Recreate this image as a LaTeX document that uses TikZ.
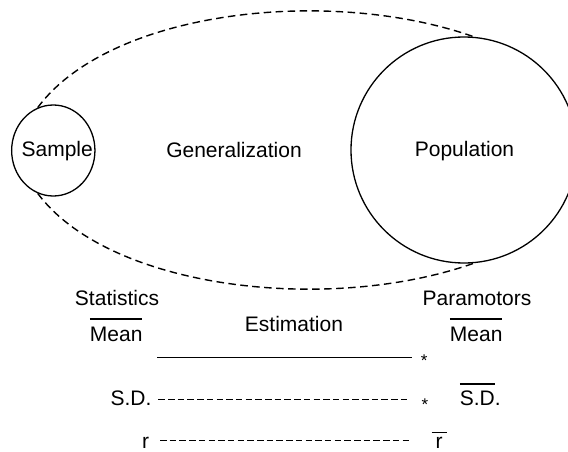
\documentclass[tikz,border=0pt]{standalone}
\usepackage{fontspec}
\setmainfont{Liberation Sans}
\usetikzlibrary{shapes.geometric}
\newcommand\barover[2]{\vbox{\hrule height 1.3pt\kern#1\hbox{#2}}}
\begin{document}
\begin{tikzpicture}[x=1pt,y=-1pt,
  txt/.style={font=\fontsize{21}{25}\selectfont, inner sep=0pt, anchor=base},
  astx/.style={font=\fontsize{17}{20}\selectfont, inner sep=0pt, anchor=base},
  ring/.style={draw, line width=1.3pt, inner sep=0pt},
  arc dash/.style={line width=1.4pt, dash pattern=on 7.5pt off 4.5pt},
  solidln/.style={line width=1.4pt},
  dashln/.style={line width=1.4pt, dash pattern=on 6.5pt off 3.2pt}]
\useasboundingbox (0,0) rectangle (568,452);
\clip (0,0) rectangle (568,452);
% circles
\node[ring, ellipse, minimum width=83.3pt, minimum height=91pt] (S) at (53.3,150.5) {};
\node[ring, circle, minimum size=226pt] (P) at (464,150) {};
% top texts
\node[txt] (Stxt) at (57.2,157) {Sample};
\node[txt] (G) at (234,157.3) {Generalization};
\node[txt] (Ptxt) at (464.5,156.7) {Population};
% dashed generalization curves
\draw[arc dash] (S.110) .. controls (110,10) and (330,-14) .. (P.85);
\draw[arc dash] (S.250) .. controls (110,290) and (330,314) .. (P.275);
% bottom texts
\node[txt] (stat) at (117,305.5) {Statistics};
\node[txt] (meanL) at (116.2,341) {\barover{7pt}{Mean}};
\node[txt] (est) at (294,331.5) {Estimation};
\node[txt] (param) at (477,305.5) {Paramotors};
\node[txt] (meanR) at (476.2,341) {\barover{7pt}{Mean}};
\node[txt] (sdL) at (131,405.5) {S.D.};
\node[txt] (sdR) at (480.3,405.5) {\barover{6.3pt}{S.D}.};
\node[txt] (rL) at (145.7,448.5) {r};
\node[txt] (rR) at (439.2,448.5) {\vbox{\hrule height 1.3pt\kern4.3pt\hbox to 15pt{\hss r\hss}}};
\node[astx] (ast1) at (424.3,366) {*};
\node[astx] (ast2) at (425,410.5) {*};
% estimation lines
\coordinate (m1) at (157.3,357.5);
\coordinate (m2) at (411.7,357.5);
\coordinate (s1) at (158.3,399.3);
\coordinate (s2) at (410,399.3);
\coordinate (r1) at (160,440.5);
\coordinate (r2) at (410,440.5);
\draw[solidln] (m1) -- (m2);
\draw[dashln] (s1) -- (s2);
\draw[dashln] (r1) -- (r2);
\end{tikzpicture}
\end{document}
